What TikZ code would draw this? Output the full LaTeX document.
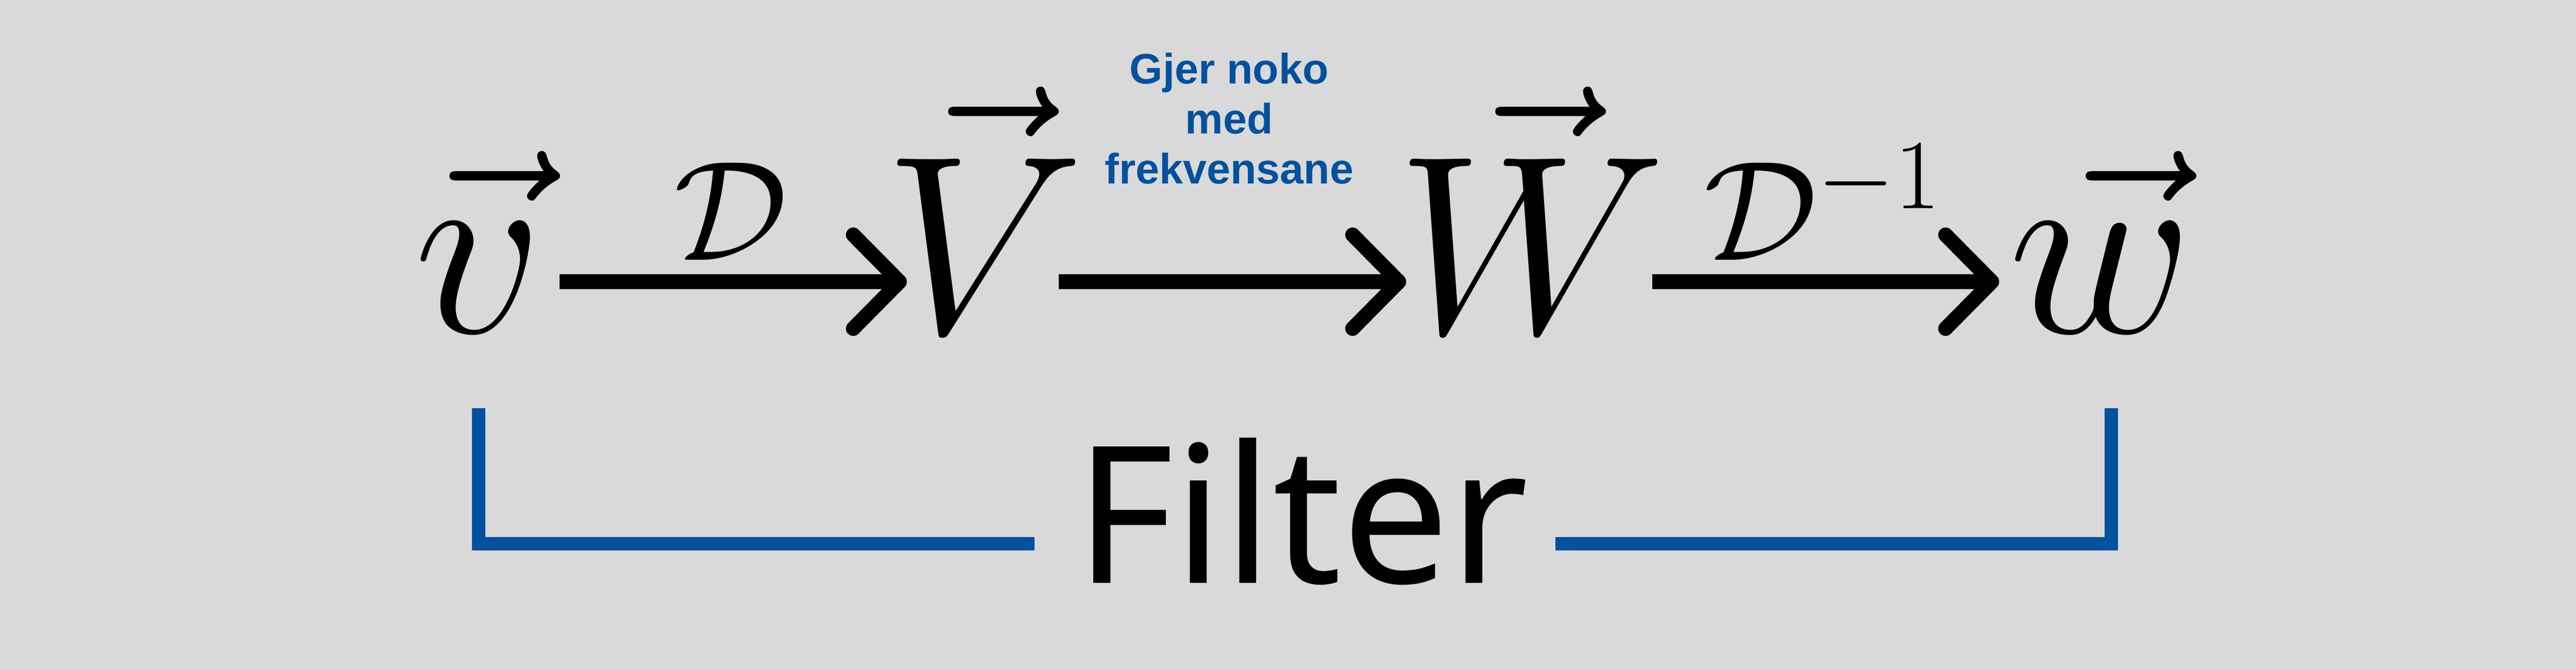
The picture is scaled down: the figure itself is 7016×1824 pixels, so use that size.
\RequirePackage{fix-cm}
\documentclass[tikz,border=0pt]{standalone}
\usepackage{amsmath}
\usepackage{fontspec}
\newfontfamily\notefont{Liberation Sans}
\newfontfamily\filterfont{Noto Sans}
\usetikzlibrary{arrows.meta}
\definecolor{noteblue}{RGB}{0,81,158}
\definecolor{bggray}{RGB}{217,217,217}

\begin{document}
\begin{tikzpicture}[x=0.01cm, y=0.01cm,
    maparrow/.style={line width=0.4cm, -{Straight Barb[length=1.26cm, width=2.55cm, round]}},
    filterline/.style={line width=0.36cm, draw=noteblue},
    bigmath/.style={inner sep=0pt, anchor=base, font=\fontsize{197}{236}\selectfont},
    mapmath/.style={inner sep=0pt, anchor=base, font=\fontsize{110}{132}\selectfont},
  ]
   % background
   \useasboundingbox (0,0) rectangle (7016,1824);
   \fill[bggray] (0,0) rectangle (7016,1824);

   % vectors
   \node[bigmath] (v) at (1304,918) {$\vec{v}$};
   \node[bigmath] (V) at (2680,918) {$\vec{V}$};
   \node[bigmath] (W) at (4171,918) {$\vec{W}$};
   \node[bigmath] (w) at (5722,918) {$\vec{w}$};

   % arrow ends
   \coordinate (a1) at (1524,1057);
   \coordinate (b1) at (2470,1057);
   \coordinate (a2) at (2884,1057);
   \coordinate (b2) at (3830,1057);
   \coordinate (a3) at (4500,1057);
   \coordinate (b3) at (5445,1057);

   % draw diagram
   \draw[maparrow] (a1) -- (b1);
   \draw[maparrow] (a2) -- (b2);
   \draw[maparrow] (a3) -- (b3);

   % labels
   \node[mapmath] (d) at (1990,1116) {$\mathcal{D}$};
   \node[mapmath] (dinv) at (4964,1116) {$\mathcal{D}^{-1}$};
   \node[inner sep=0pt, anchor=base, align=center, text=noteblue,
         font=\notefont\bfseries\fontsize{33}{38.7}\selectfont] (note) at (3348,1324)
         {Gjer noko\\med\\frekvensane};

   % filter bracket
   \node[inner sep=0pt, anchor=base, font=\filterfont\fontsize{148}{178}\selectfont] (filter) at (3545,236) {Filter};
   \coordinate (lt) at (1304,712);
   \coordinate (le) at (2817,344);
   \coordinate (rs) at (4236,344);
   \coordinate (rt) at (5750,712);
   \draw[filterline] (lt) |- (le);
   \draw[filterline] (rs) -| (rt);
\end{tikzpicture}
\end{document}
